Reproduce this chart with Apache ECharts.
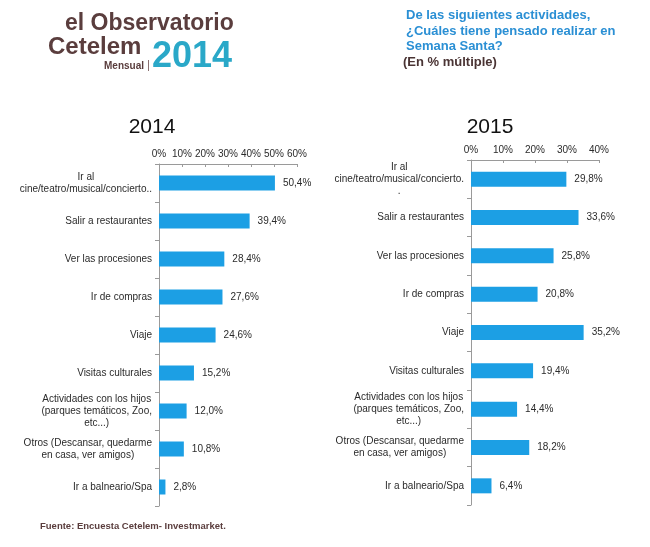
<!DOCTYPE html>
<html>
<head>
<meta charset="utf-8">
<script src="https://cdn.jsdelivr.net/npm/echarts@6/dist/echarts.min.js"></script>
<style>
  html, body { margin: 0; padding: 0; background: #fff; }
  #chart { width: 650px; height: 547px; }
</style>
</head>
<body>
<div id="chart"></div>
<script>
// categorías (mismo orden en ambos paneles)
const cats2014 = [
  'Ir al\ncine/teatro/musical/concierto..',
  'Salir a restaurantes',
  'Ver las procesiones',
  'Ir de compras',
  'Viaje',
  'Visitas culturales',
  'Actividades con los hijos\n(parques temáticos, Zoo,\netc...)',
  'Otros (Descansar, quedarme\nen casa, ver amigos)',
  'Ir a balneario/Spa'
];
const cats2015 = [
  'Ir al\ncine/teatro/musical/concierto.\n.',
  'Salir a restaurantes',
  'Ver las procesiones',
  'Ir de compras',
  'Viaje',
  'Visitas culturales',
  'Actividades con los hijos\n(parques temáticos, Zoo,\netc...)',
  'Otros (Descansar, quedarme\nen casa, ver amigos)',
  'Ir a balneario/Spa'
];
const values2014 = [50.4, 39.4, 28.4, 27.6, 24.6, 15.2, 12.0, 10.8, 2.8];
const values2015 = [29.8, 33.6, 25.8, 20.8, 35.2, 19.4, 14.4, 18.2, 6.4];

const FONT = '"Liberation Sans", Arial, sans-serif';
const BAR = '#1C9FE4';
const TXT = '#2b2b2b';
const AXIS = '#9a9a9a';
const BROWN = '#5a3d3d';

const pct = v => v.toFixed(1).replace('.', ',') + '%';
// cada línea centrada dentro del bloque, bloque alineado a la derecha
const catFmt = s => s.split('\n').map(l => '{c|' + l + '}').join('\n');

function xAxisFor(idx, max) {
  return {
    gridIndex: idx, type: 'value', position: 'top', min: 0, max: max, interval: 10,
    axisLine: { show: true, lineStyle: { color: AXIS } },
    axisTick: { show: true, inside: true, length: 3, lineStyle: { color: AXIS } },
    splitLine: { show: false },
    axisLabel: { color: TXT, fontSize: 10, fontFamily: FONT, margin: 5, formatter: v => v + '%' }
  };
}
function yAxisFor(idx, cats) {
  return {
    gridIndex: idx, type: 'category', data: cats, inverse: true,
    axisLine: { show: true, lineStyle: { color: AXIS } },
    axisTick: { show: true, length: 4, lineStyle: { color: AXIS } },
    axisLabel: {
      color: TXT, fontSize: 10, fontFamily: FONT, margin: 7, lineHeight: 12,
      formatter: catFmt,
      rich: { c: { align: 'center', fontSize: 10, fontFamily: FONT, color: TXT, lineHeight: 12 } }
    }
  };
}
function barSeries(idx, vals) {
  return {
    type: 'bar', xAxisIndex: idx, yAxisIndex: idx, data: vals, barWidth: 15,
    itemStyle: { color: BAR },
    label: { show: true, position: 'right', distance: 8, color: TXT, fontSize: 10, fontFamily: FONT, formatter: p => pct(p.value) }
  };
}

const chart = echarts.init(document.getElementById('chart'), null, { renderer: 'canvas' });
chart.setOption({
  backgroundColor: '#fff',
  animation: false,
  grid: [
    { left: 159, top: 164, width: 138, height: 342 },
    { left: 471, top: 160, width: 128, height: 345 }
  ],
  xAxis: [xAxisFor(0, 60), xAxisFor(1, 40)],
  yAxis: [yAxisFor(0, cats2014), yAxisFor(1, cats2015)],
  series: [barSeries(0, values2014), barSeries(1, values2015)],
  graphic: [
    // logo
    { type: 'text', left: 65, top: 12, style: { text: 'el Observatorio', font: 'bold 23px ' + FONT, fill: BROWN } },
    { type: 'text', left: 48, top: 35, style: { text: 'Cetelem', font: 'bold 24px ' + FONT, fill: BROWN } },
    { type: 'text', left: 152, top: 39, style: { text: '2014', font: 'bold 36px ' + FONT, fill: '#2aa8c8' } },
    { type: 'text', left: 104, top: 61, style: { text: 'Mensual', font: 'bold 10px ' + FONT, fill: BROWN } },
    { type: 'rect', shape: { x: 148, y: 60, width: 1, height: 11 }, style: { fill: '#8a7070' } },
    // pregunta
    { type: 'text', left: 406, top: 8, style: { text: 'De las siguientes actividades,\n¿Cuáles tiene pensado realizar en\nSemana Santa?', font: 'bold 13px ' + FONT, fill: '#2a8fd4', lineHeight: 15.5 } },
    { type: 'text', left: 403, top: 56, style: { text: '(En % múltiple)', font: 'bold 13px ' + FONT, fill: '#4a3434' } },
    // títulos de panel
    { type: 'text', x: 152, y: 127, style: { text: '2014', font: '21px ' + FONT, fill: '#111', align: 'center', verticalAlign: 'middle' } },
    { type: 'text', x: 490, y: 127, style: { text: '2015', font: '21px ' + FONT, fill: '#111', align: 'center', verticalAlign: 'middle' } },
    // fuente
    { type: 'text', left: 40, top: 521, style: { text: 'Fuente: Encuesta Cetelem- Investmarket.', font: 'bold 9.5px ' + FONT, fill: BROWN } }
  ]
});
</script>
</body>
</html>
